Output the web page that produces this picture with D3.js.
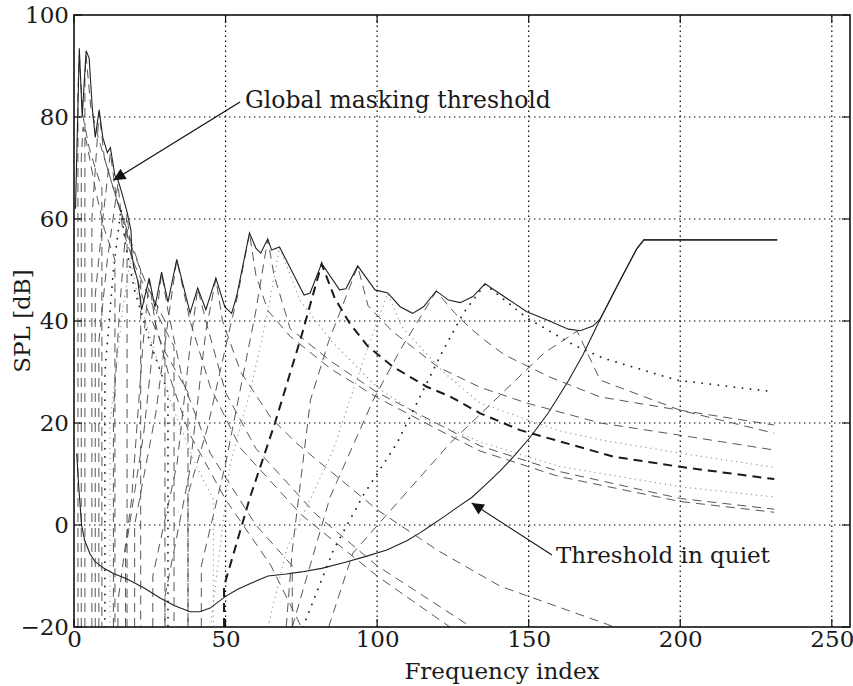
<!DOCTYPE html>
<html>
<head>
<meta charset="utf-8">
<script src="https://cdn.jsdelivr.net/npm/d3@7"></script>
<style>
  body { margin: 0; background: #fff; }
  svg { display: block; }
  text { font-family: "DejaVu Serif", serif; fill: #1a1a1a; }
</style>
</head>
<body>
<div id="chart"></div>
<script>
// Axis ticks
var xTicks = [0, 50, 100, 150, 200, 250];
var yTicks = [-20, 0, 20, 40, 60, 80, 100];

// Threshold in quiet, [frequency index, dB]
var quietThreshold = [
  [0.9, 14], [1.5, 8], [2.5, 0], [3.5, -3], [5.3, -5.7], [7, -7.2], [9.6, -8.4],
  [13, -9.5], [17.5, -10.6], [23, -12.3], [28.4, -14.3], [33, -15.8], [38.3, -17],
  [41.5, -17], [44.9, -16.3], [50, -14], [54, -12.6], [58, -11.5], [64, -10],
  [70, -9.6], [75, -9.2], [81.7, -8.5], [88.9, -7.4], [95.5, -6.3], [103.2, -4.9],
  [109.8, -3.1], [114, -1.6], [118, 0], [122, 1.6], [126.3, 3.4], [131.2, 5.4],
  [136, 8], [140.6, 10.6], [145, 13.4], [150.5, 17.2], [156.5, 22], [163.1, 28.3],
  [168, 33.5], [173.6, 40.4], [180, 47.8], [185.7, 54.2], [188, 55.9], [232, 55.9]
];

// Global masking threshold, [frequency index, dB]
var globalThreshold = [
  [0.5, 62], [1.75, 93.5], [2.7, 80], [4, 93], [5, 91.5], [6, 82], [7, 76], [8.3, 81.4],
  [9.5, 76], [11, 73], [12, 74], [13.5, 68.5], [14.5, 67.6], [15.5, 65.7], [17.5, 61.4],
  [18.8, 57.8], [19.1, 53], [19.8, 50.4], [21, 48], [22.3, 42.2], [24.8, 48.4],
  [26.7, 42.7], [28.9, 49.6], [31, 43.7], [33.9, 52.1], [38.3, 41.6], [40.8, 46.5],
  [43.5, 42.2], [46.8, 48.4], [49.8, 42.7], [52, 41.5], [53.7, 45], [57.9, 57.3],
  [60, 54.3], [61.6, 53.3], [63.9, 56.1], [65.2, 53.9], [67.8, 54.5], [75.9, 45.1],
  [77.9, 45.5], [81.7, 51.3], [87.6, 46.1], [89.7, 46.3], [93.6, 50.8], [99.3, 46.1],
  [103.5, 45.5], [107.6, 42.8], [111.7, 41.5], [115.3, 42.8], [119.5, 45.9],
  [123.5, 44.1], [127.4, 43.6], [131.6, 44.8], [135.6, 47.3], [149.4, 41.8],
  [156.5, 40.1], [163.1, 38.4], [167, 38.1], [171.2, 39], [173.6, 40.4], [180, 47.8],
  [185.7, 54.2], [188, 55.9], [232, 55.9]
];

// Individual masking thresholds, [frequency index, dB]
var maskerCurves = [
  [[1.3, -20], [1.3, 85], [1.75, 92], [3, 80], [5, 74], [7, 70], [9.2, 66], [9.2, -20]],
  [[3.6, -20], [3.6, 88], [4, 92], [5.5, 82], [8, 76], [11, 70], [14, 64], [17.5, 58], [17.5, -20]],
  [[5.9, -20], [5.9, 60], [8.3, 81], [10, 72], [14, 64], [18, 57], [22, 50], [22, -20]],
  [[7, -20], [7, 45], [9.5, 60], [12, 73], [14, 64], [18, 56], [24, 47], [30, 40], [30, -20]],
  [[8.2, -20], [8.2, 36], [11, 52], [14.5, 67], [16, 58], [20, 51], [26, 43], [33, 35], [33, -20]],
  [[10.2, -20], [10.2, 30], [13, 50], [15.5, 62], [17, 55], [20, 46], [25, 36], [31, 26], [31, -20]],
  [[11.9, -20], [11.9, 20], [16, 42], [18.5, 52], [21, 45], [26, 35], [32, 24], [40, 12], [46, 5], [46, -20]],
  [[2.4, -20], [2.4, 72], [3, 78], [4.5, 74], [7, 66], [10, 58], [13.5, 52], [13.5, -20]],
  [[13, -20], [13, 22], [15, 42], [17.5, 61], [19, 52], [23, 44], [30, 34], [37.6, 26], [37.6, -20]],
  [[14.5, -20], [14.5, -15], [19, 5], [22.7, 35], [24.8, 48], [26.7, 40], [31, 30], [38, 18], [50, 5], [65, -8], [75, -20]],
  [[17, -20], [17, -5], [23, 18], [27, 40], [28.9, 49.4], [31, 42], [36, 28], [45, 14], [60, 0], [72, -8], [72, -20]],
  [[20, -20], [20, 0], [27, 22], [31, 40], [33.9, 52], [38.3, 40], [45, 27], [55, 15], [75, 2], [100, -10], [124, -20]],
  [[26, -20], [26, -10], [34, 12], [38.3, 35], [40.8, 46.4], [43.5, 40], [50, 26], [60, 15], [80, 2], [100, -8], [131, -20]],
  [[30, -20], [30, -14], [38, 10], [43.5, 38], [46.8, 48.3], [49, 40], [55, 30], [65, 21], [73.5, 16], [100, 3], [120, -5], [140.6, -12], [176, -19.5], [178, -20]],
  [[37.6, -20], [37.6, 6], [44, 19], [51.5, 38.8], [54, 45], [57.9, 57.2], [60, 49], [64, 42], [71.3, 37], [85, 30.5], [100, 25], [124, 17.5], [134, 14.5], [160, 9.5], [200, 4.6], [231, 2.5]],
  [[42, -20], [42, -8], [50, 12], [56, 30], [60, 42], [63.9, 56], [66, 49], [71.3, 38.5], [85, 32], [100, 26], [124, 18.6], [134, 15.5], [160, 10.5], [200, 5.2], [231, 3.1]],
  [[45, -20], [51.5, 12], [58, 25.9], [63.6, 40.8], [67.8, 54.4], [74.6, 44], [85, 36], [100, 27], [115, 21], [134, 16.3], [160, 11.5], [200, 7.5], [231, 5.5]],
  [[49.5, -20], [49.5, -12], [58, 5.3], [66.3, 20], [75, 37], [81.7, 51.2], [86, 44.5], [91, 39.5], [97, 35], [105.3, 31], [116.4, 27.1], [124.1, 25.2], [134, 21.9], [147.2, 18.6], [178, 13.4], [200, 11.4], [231, 9]],
  [[70, -20], [72, -5], [78, 24.5], [84, 36], [93.6, 50.7], [97, 43], [105, 38], [120, 31], [134, 27], [149.4, 23.9], [173.6, 20], [200, 17.6], [231, 14.7]],
  [[64, -20], [70, -5], [85.5, 14.7], [91, 24.5], [96.6, 34.3], [103.5, 45.4], [108, 39], [121.8, 30], [134, 23.9], [160, 18.5], [173.6, 16.7], [200, 14.1], [231, 11.3]],
  [[72, -20], [84.5, 5.5], [98.7, 24.5], [107.6, 34.3], [119.5, 45.8], [125.7, 41.5], [130.7, 38.6], [136.2, 35.9], [142.2, 33.3], [157, 29], [173.6, 25.1], [200, 22.5], [231, 19.6]],
  [[75.5, -20], [85.6, -4.9], [95.5, 5.9], [106.5, 16], [114.2, 25.2], [121.8, 34.3], [128.4, 41.5], [135.6, 47.2], [149.4, 40.6], [164.8, 35.3], [174.7, 32.7], [198.9, 28.4], [231, 26.1]],
  [[84, -20], [92, -5.5], [124, 16], [155, 33.7], [166, 38], [173.6, 28.4], [200, 22.5], [231, 18]]
];
// tonal / tonal (strong) / noise / noise (weak), one per curve above
var maskerKind = [
  "tonal", "tonal", "tonal", "tonal", "tonal", "noise", "noiseWeak", "tonal", "tonal", "tonal",
  "tonal", "tonal", "tonal", "tonal", "tonal", "tonal", "noiseWeak", "tonalStrong", "tonal",
  "noiseWeak", "tonal", "noise", "tonal"
];

var W = 853, H = 686;
var svg = d3.select('#chart').append('svg')
  .attr('width', W).attr('height', H);

var x = d3.scaleLinear().domain([0, 256]).range([74, 850]);
var y = d3.scaleLinear().domain([-20, 100]).range([627, 15]);

// clip for the curves
svg.append('clipPath').attr('id', 'plotclip')
  .append('rect')
  .attr('x', x(0)).attr('y', y(100))
  .attr('width', x(256) - x(0)).attr('height', y(-20) - y(100));

// dotted grid
var grid = svg.append('g').attr('class', 'grid');
grid.selectAll('line.gx')
  .data(xTicks.filter(function(d) { return d > 0; }))
  .enter().append('line')
  .attr('x1', function(d) { return x(d); }).attr('x2', function(d) { return x(d); })
  .attr('y1', y(-20)).attr('y2', y(100))
  .attr('stroke', '#000').attr('stroke-width', 1.2)
  .attr('stroke-dasharray', '1.4,3.6');
grid.selectAll('line.gy')
  .data(yTicks.filter(function(d) { return d > -20 && d < 100; }))
  .enter().append('line')
  .attr('y1', function(d) { return y(d); }).attr('y2', function(d) { return y(d); })
  .attr('x1', x(0)).attr('x2', x(256))
  .attr('stroke', '#000').attr('stroke-width', 1.2)
  .attr('stroke-dasharray', '1.4,3.6');

var line = d3.line()
  .x(function(d) { return x(d[0]); })
  .y(function(d) { return y(d[1]); });

var styles = {
  tonal:       { stroke: '#444', width: 0.9, dash: '9,6',   cap: 'butt' },
  tonalStrong: { stroke: '#1a1a1a', width: 2.0, dash: '9,6', cap: 'butt' },
  noise:       { stroke: '#222', width: 1.8, dash: '0.1,8',  cap: 'round' },
  noiseWeak:   { stroke: '#999', width: 1.3, dash: '0.1,5',  cap: 'round' }
};

var plot = svg.append('g').attr('clip-path', 'url(#plotclip)');

plot.selectAll('path.masker')
  .data(maskerCurves)
  .enter().append('path')
  .attr('class', 'masker')
  .attr('d', line)
  .attr('fill', 'none')
  .attr('stroke', function(d, i) { return styles[maskerKind[i]].stroke; })
  .attr('stroke-width', function(d, i) { return styles[maskerKind[i]].width; })
  .attr('stroke-dasharray', function(d, i) { return styles[maskerKind[i]].dash; })
  .attr('stroke-linecap', function(d, i) { return styles[maskerKind[i]].cap; });

plot.append('path')
  .attr('d', line(quietThreshold))
  .attr('fill', 'none').attr('stroke', '#222').attr('stroke-width', 1.1);

plot.append('path')
  .attr('d', line(globalThreshold))
  .attr('fill', 'none').attr('stroke', '#222').attr('stroke-width', 1.1);

// axes box with inward ticks
svg.append('rect')
  .attr('x', x(0)).attr('y', y(100))
  .attr('width', x(256) - x(0)).attr('height', y(-20) - y(100))
  .attr('fill', 'none').attr('stroke', '#111').attr('stroke-width', 1.6);

var tk = 8;
xTicks.forEach(function(t) {
  svg.append('line').attr('x1', x(t)).attr('x2', x(t)).attr('y1', y(-20)).attr('y2', y(-20) - tk)
    .attr('stroke', '#111').attr('stroke-width', 1.2);
  svg.append('line').attr('x1', x(t)).attr('x2', x(t)).attr('y1', y(100)).attr('y2', y(100) + tk)
    .attr('stroke', '#111').attr('stroke-width', 1.2);
});
yTicks.forEach(function(t) {
  svg.append('line').attr('x1', x(0)).attr('x2', x(0) + tk).attr('y1', y(t)).attr('y2', y(t))
    .attr('stroke', '#111').attr('stroke-width', 1.2);
  svg.append('line').attr('x1', x(256)).attr('x2', x(256) - tk).attr('y1', y(t)).attr('y2', y(t))
    .attr('stroke', '#111').attr('stroke-width', 1.2);
});

var fs = 23;

// tick labels
var xAxis = d3.axisBottom(x).tickValues(xTicks).tickSize(0).tickPadding(4);
var gx = svg.append('g').attr('transform', 'translate(0,' + y(-20) + ')').call(xAxis);
gx.select('.domain').remove();
gx.selectAll('text').attr('font-size', fs).attr('font-family', '"DejaVu Serif", serif').attr('fill', '#1a1a1a');

var yAxis = d3.axisLeft(y).tickValues(yTicks).tickSize(0).tickPadding(5)
  .tickFormat(function(d) { return d < 0 ? '\u2212' + Math.abs(d) : d; });
var gy = svg.append('g').attr('transform', 'translate(' + x(0) + ',0)').call(yAxis);
gy.select('.domain').remove();
gy.selectAll('text').attr('font-size', fs).attr('font-family', '"DejaVu Serif", serif').attr('fill', '#1a1a1a');

// axis titles
svg.append('text')
  .attr('x', 502).attr('y', 679)
  .attr('text-anchor', 'middle').attr('font-size', fs)
  .text('Frequency index');

svg.append('text')
  .attr('transform', 'translate(30,' + ((y(-20) + y(100)) / 2) + ') rotate(-90)')
  .attr('text-anchor', 'middle').attr('font-size', fs)
  .text('SPL [dB]');

// annotations
var defs = svg.append('defs');
defs.append('marker')
  .attr('id', 'head').attr('viewBox', '0 0 10 10')
  .attr('refX', 10).attr('refY', 5)
  .attr('markerWidth', 17).attr('markerHeight', 12)
  .attr('markerUnits', 'userSpaceOnUse')
  .attr('orient', 'auto')
  .append('path').attr('d', 'M0,0 L10,5 L0,10 z').attr('fill', '#111');

svg.append('line')
  .attr('x1', 240).attr('y1', 102).attr('x2', x(13)).attr('y2', y(67.6))
  .attr('stroke', '#111').attr('stroke-width', 1.3)
  .attr('marker-end', 'url(#head)');
svg.append('text')
  .attr('x', 245).attr('y', 108).attr('font-size', 23.5)
  .text('Global masking threshold');

svg.append('line')
  .attr('x1', 552).attr('y1', 555).attr('x2', x(131.2)).attr('y2', y(4.3))
  .attr('stroke', '#111').attr('stroke-width', 1.1)
  .attr('marker-end', 'url(#head)');
svg.append('text')
  .attr('x', 556).attr('y', 563).attr('font-size', fs)
  .text('Threshold in quiet');
</script>
</body>
</html>
